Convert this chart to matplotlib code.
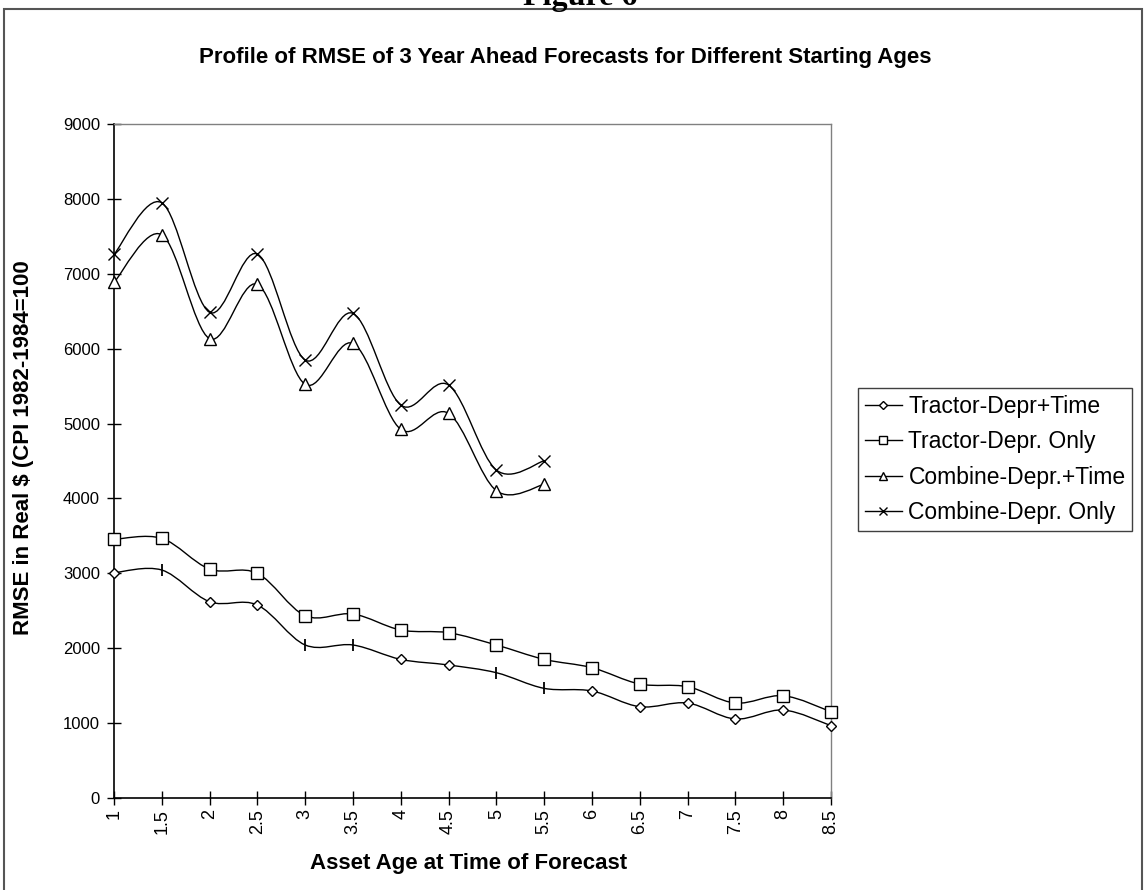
import numpy as np
import matplotlib.pyplot as plt
from matplotlib.path import Path
from matplotlib.patches import PathPatch, Rectangle
from matplotlib.lines import Line2D

plt.rcParams['font.family'] = ['Liberation Sans', 'DejaVu Sans']

# asset age at time of forecast
ages = [1, 1.5, 2, 2.5, 3, 3.5, 4, 4.5, 5, 5.5, 6, 6.5, 7, 7.5, 8, 8.5]

# RMSE in real $
tractor_time = [3008, 3044, 2621, 2577, 2043, 2043, 1851, 1776, 1673, 1464,
                1429, 1219, 1268, 1055, 1175, 966]
tractor_only = [3454, 3467, 3057, 3000, 2434, 2457, 2243, 2207, 2043, 1851,
                1740, 1522, 1486, 1268, 1366, 1152]
combine_time = [6885, 7521, 6133, 6858, 5523, 6070, 4922, 5136, 4103, 4188]
combine_only = [7259, 7948, 6485, 7263, 5848, 6471, 5247, 5514, 4379, 4503]

# ages where the diamond marker is drawn as a bar in the original
bar_ages = [1.5, 3, 3.5, 5, 5.5]

labels = ['Tractor-Depr+Time', 'Tractor-Depr. Only',
          'Combine-Depr.+Time', 'Combine-Depr. Only']
xticks = ages
yticks = np.arange(0, 9001, 1000)


def smooth_path(x, y, t=1 / 6):
    # Excel-like smoothed line: Catmull-Rom as cubic bezier segments
    pts = np.column_stack([x, y]).astype(float)
    n = len(pts)
    verts = [pts[0]]
    codes = [Path.MOVETO]
    for i in range(n - 1):
        p0 = pts[max(i - 1, 0)]
        p1 = pts[i]
        p2 = pts[i + 1]
        p3 = pts[min(i + 2, n - 1)]
        verts += [p1 + (p2 - p0) * t, p2 - (p3 - p1) * t, p2]
        codes += [Path.CURVE4] * 3
    return Path(verts, codes)


fig = plt.figure(figsize=(11.44, 8.90), dpi=100)
ax = fig.add_axes([114 / 1144, 92 / 890, 717 / 1144, 674 / 890])

series = [
    (ages, tractor_time, 'D', 5.5),
    (ages, tractor_only, 's', 8),
    (ages[:len(combine_time)], combine_time, '^', 8),
    (ages[:len(combine_only)], combine_only, 'x', 8),
]

for x, y, m, ms in series:
    ax.add_patch(PathPatch(smooth_path(x, y), facecolor='none', edgecolor='black',
                           lw=1.0, clip_on=False, zorder=2))
    if m == 'D':
        x = np.asarray(x)
        y = np.asarray(y)
        is_bar = np.isin(x, bar_ages)
        ax.plot(x[~is_bar], y[~is_bar], ls='none', marker='D', ms=ms, mfc='white',
                mec='black', mew=1.0, clip_on=False, zorder=3)
        ax.plot(x[is_bar], y[is_bar], ls='none', marker='|', ms=8, mec='black',
                mew=1.3, clip_on=False, zorder=3)
    else:
        ax.plot(x, y, ls='none', marker=m, ms=ms, mfc='white', mec='black',
                mew=1.0, clip_on=False, zorder=3)

ax.set_xlim(1, 8.5)
ax.set_ylim(0, 9000)
ax.set_xticks(xticks)
ax.set_xticklabels([f'{a:g}' for a in xticks], rotation=90)
ax.set_yticks(yticks)
ax.tick_params(direction='inout', length=10, width=1, color='black')
ax.tick_params(axis='x', pad=3, labelsize=13)
ax.tick_params(axis='y', pad=5, labelsize=12)

for s in ['left', 'bottom']:
    ax.spines[s].set_linewidth(1.2)
    ax.spines[s].set_color('black')
for s in ['top', 'right']:
    ax.spines[s].set_linewidth(1.0)
    ax.spines[s].set_color('#808080')

ax.set_xlabel('Asset Age at Time of Forecast', fontsize=16, fontweight='bold')
ax.xaxis.set_label_coords(0.494, -0.082)
ax.set_ylabel('RMSE in Real $ (CPI 1982-1984=100', fontsize=16, fontweight='bold')
ax.yaxis.set_label_coords(-0.112, 0.52)

fig.text(0.494, 1 - 57 / 890, 'Profile of RMSE of 3 Year Ahead Forecasts for Different Starting Ages',
         ha='center', va='center', fontsize=16, fontweight='bold')

# cut-off page heading above the chart frame
fig.text(0.507, 1 - 5 / 890, 'Figure 6', ha='center', va='baseline', fontsize=23,
         fontweight='bold', family=['Liberation Serif', 'DejaVu Serif'])

fig.add_artist(Rectangle((4 / 1144, -0.02), 1138 / 1144, 1 - 9 / 890 + 0.02,
                         transform=fig.transFigure, fill=False,
                         edgecolor='#555555', lw=1.5))

handles = [
    Line2D([], [], color='black', lw=1, marker='D', ms=4, mfc='white', mec='black'),
    Line2D([], [], color='black', lw=1, marker='s', ms=6, mfc='white', mec='black'),
    Line2D([], [], color='black', lw=1, marker='^', ms=6, mfc='white', mec='black'),
    Line2D([], [], color='black', lw=1, marker='x', ms=6, mfc='white', mec='black'),
]
leg = fig.legend(handles, labels, loc='upper left', bbox_to_anchor=(858 / 1144, 1 - 388 / 890),
                 fontsize=16.5, frameon=True, fancybox=False, framealpha=1,
                 edgecolor='#404040', handlelength=1.6, handletextpad=0.3,
                 labelspacing=0.54, borderpad=0.3, borderaxespad=0)
leg.get_frame().set_linewidth(1.0)

fig.savefig('out.png', dpi=100)
